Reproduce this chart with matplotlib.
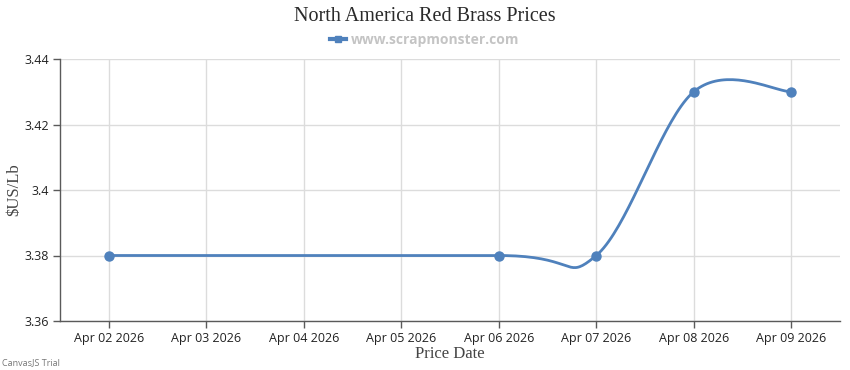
import numpy as np
import matplotlib.pyplot as plt
from matplotlib.lines import Line2D

# chart data
tick_labels = ["Apr 02 2026", "Apr 03 2026", "Apr 04 2026", "Apr 05 2026",
               "Apr 06 2026", "Apr 07 2026", "Apr 08 2026", "Apr 09 2026"]
day_index = [0, 4, 5, 6, 7]          # position of each price in tick_labels
prices = [3.38, 3.38, 3.38, 3.43, 3.43]

y_ticks = [3.36, 3.38, 3.40, 3.42, 3.44]
y_tick_labels = ["3.36", "3.38", "3.4", "3.42", "3.44"]

LINE = "#4F81BC"
GRID = "#dcdcdc"
AXIS = "#5a5a5a"


def spline(xs, ys, tension=2.0, steps=40):
    # cubic bezier spline through the points (CanvasJS style smoothing)
    xs, ys = np.asarray(xs, float), np.asarray(ys, float)
    n = len(xs)
    outx, outy = [xs[0]], [ys[0]]
    for i in range(1, n):
        a = i - 1
        i1, i2 = max(a - 1, 0), min(a + 1, n - 1)
        c1x = xs[a] + (xs[i2] - xs[i1]) / tension / 3
        c1y = ys[a] + (ys[i2] - ys[i1]) / tension / 3
        i1, i2 = max(i - 1, 0), min(i + 1, n - 1)
        c2x = xs[i] - (xs[i2] - xs[i1]) / tension / 3
        c2y = ys[i] - (ys[i2] - ys[i1]) / tension / 3
        t = np.linspace(0, 1, steps)[1:]
        b0, b1, b2, b3 = (1 - t) ** 3, 3 * t * (1 - t) ** 2, 3 * t ** 2 * (1 - t), t ** 3
        outx.extend(b0 * xs[a] + b1 * c1x + b2 * c2x + b3 * xs[i])
        outy.extend(b0 * ys[a] + b1 * c1y + b2 * c2y + b3 * ys[i])
    return np.array(outx), np.array(outy)


fig = plt.figure(figsize=(8.5, 3.7), dpi=100, facecolor="white")
ax = fig.add_axes([60 / 850, 49 / 370, 780 / 850, 262 / 370])

sx, sy = spline(day_index, prices)
ax.plot(sx, sy, color=LINE, lw=2, zorder=3)
ax.plot(day_index, prices, "o", color=LINE, ms=6.5, zorder=4)

ax.set_xlim(-0.5, len(tick_labels) - 0.5)
ax.set_ylim(3.36, 3.44)
ax.set_xticks(range(len(tick_labels)))
ax.set_xticklabels(tick_labels, fontsize=9, color="#222222", family="Open Sans")
ax.set_yticks(y_ticks)
ax.set_yticklabels(y_tick_labels, fontsize=9, color="#222222", family="Open Sans")
ax.tick_params(axis="both", colors=AXIS, length=5, width=1, labelcolor="#222222")
ax.tick_params(axis="x", pad=3)
ax.tick_params(axis="y", pad=3)

ax.grid(True, color=GRID, lw=1)
ax.set_axisbelow(True)
for side in ["top", "right"]:
    ax.spines[side].set_visible(False)
for side in ["left", "bottom"]:
    ax.spines[side].set_color(AXIS)
    ax.spines[side].set_linewidth(1)

ax.set_xlabel("Price Date", family="Liberation Serif", fontsize=12, color="#444444", labelpad=1)

# y axis title placed by hand so it sits where the reference has it
fig.text(14 / 850, 0.5 * (49 + 311) / 370, "$US/Lb", rotation=90, ha="center", va="center",
         family="Liberation Serif", fontsize=12, color="#444444")

fig.text(0.5, 0.956, "North America Red Brass Prices", ha="center", va="center",
         family="Liberation Serif", fontsize=14.5, color="#2a2a2a")

handle = Line2D([], [], color=LINE, lw=3, marker="s", ms=5)
fig.legend([handle], ["www.scrapmonster.com"], loc="center", bbox_to_anchor=(0.5, 0.892),
           frameon=False, handlelength=1.1, handletextpad=0.4,
           prop={"family": "Open Sans", "weight": "bold", "size": 10}, labelcolor="#c4c4c4")

fig.text(0.002, 0.012, "CanvasJS Trial", fontsize=6.5, color="#777777", family="Open Sans")

fig.savefig("out.png", dpi=100, facecolor="white")
plt.close()
